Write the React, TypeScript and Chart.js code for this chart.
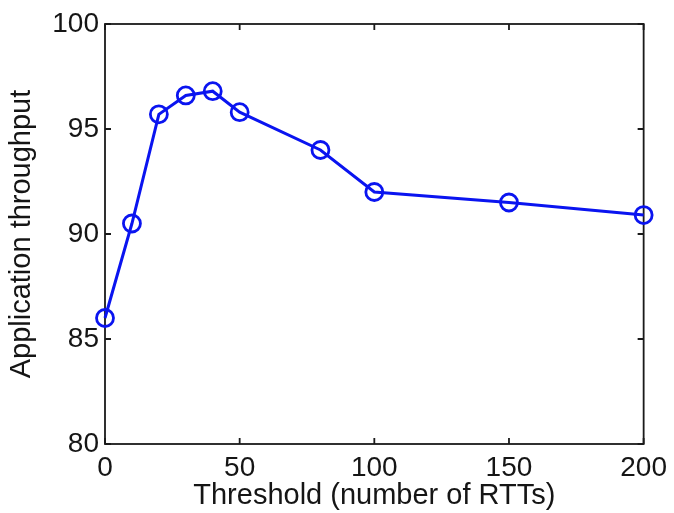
import React, { useEffect, useRef } from "react";
import { Chart, registerables } from "chart.js";

Chart.register(...registerables);

const thresholds = [0, 10, 20, 30, 40, 50, 80, 100, 150, 200];
const throughput = [86.0, 90.5, 95.7, 96.6, 96.8, 95.8, 94.0, 92.0, 91.5, 90.9];
const xTicks = [0, 50, 100, 150, 200];
const yTicks = [80, 85, 90, 95, 100];
const xTitle = "Threshold (number of RTTs)";
const yTitle = "Application throughput";

const FONT = "'Liberation Sans', Arial, Helvetica, sans-serif";

const framePlugin = {
  id: "matlabFrame",
  beforeDatasetsDraw(chart: any) {
    const { ctx, chartArea } = chart;
    const { left, right, top, bottom } = chartArea;
    const xs = chart.scales.x;
    const ys = chart.scales.y;
    const tl = 6;
    ctx.save();
    ctx.strokeStyle = "#1a1a1a";
    ctx.lineWidth = 1.8;
    ctx.strokeRect(left, top, right - left, bottom - top);
    ctx.beginPath();
    for (const v of xTicks) {
      const px = xs.getPixelForValue(v);
      ctx.moveTo(px, bottom);
      ctx.lineTo(px, bottom - tl);
      ctx.moveTo(px, top);
      ctx.lineTo(px, top + tl);
    }
    for (const v of yTicks) {
      const py = ys.getPixelForValue(v);
      ctx.moveTo(left, py);
      ctx.lineTo(left + tl, py);
      ctx.moveTo(right, py);
      ctx.lineTo(right - tl, py);
    }
    ctx.stroke();
    ctx.restore();
  },
};

export default function App() {
  const ref = useRef<HTMLCanvasElement | null>(null);
  useEffect(() => {
    document.body.style.margin = "0";
    const canvas = ref.current;
    if (!canvas) return;
    const chart = new Chart(canvas, {
      type: "line",
      data: {
        datasets: [
          {
            data: thresholds.map((x, i) => ({ x, y: throughput[i] })),
            borderColor: "#0a14f0",
            borderWidth: 3,
            pointStyle: "circle",
            pointRadius: 8.5,
            pointBorderWidth: 2.8,
            pointBorderColor: "#0a14f0",
            pointBackgroundColor: "rgba(0,0,0,0)",
            tension: 0,
            clip: false as any,
          },
        ],
      },
      options: {
        animation: false,
        responsive: false,
        maintainAspectRatio: false,
        layout: { padding: { top: 24, right: 27, left: 0, bottom: 0 } },
        plugins: {
          legend: { display: false },
          tooltip: { enabled: false },
        },
        scales: {
          x: {
            type: "linear",
            min: 0,
            max: 200,
            afterBuildTicks: (s: any) => {
              s.ticks = xTicks.map((v) => ({ value: v }));
            },
            afterFit: (s: any) => {
              s.height = 69;
            },
            grid: { display: false, drawTicks: false },
            border: { display: false },
            ticks: {
              padding: 7,
              maxRotation: 0,
              autoSkip: false,
              color: "#151515",
              font: { family: FONT, size: 28 },
            },
            title: {
              display: true,
              text: xTitle,
              color: "#151515",
              font: { family: FONT, size: 29, lineHeight: 1.2 },
              padding: { top: 0, bottom: 0 },
            },
          },
          y: {
            type: "linear",
            min: 80,
            max: 100,
            afterBuildTicks: (s: any) => {
              s.ticks = yTicks.map((v) => ({ value: v }));
            },
            afterFit: (s: any) => {
              s.width = 105;
            },
            grid: { display: false, drawTicks: false },
            border: { display: false },
            ticks: {
              padding: 6,
              autoSkip: false,
              color: "#151515",
              font: { family: FONT, size: 28 },
            },
            title: {
              display: true,
              text: yTitle,
              color: "#151515",
              font: { family: FONT, size: 29, lineHeight: 1.2 },
              padding: { top: 5, bottom: 0 },
            },
          },
        },
      },
      plugins: [framePlugin],
    });
    return () => chart.destroy();
  }, []);
  return (
    <div style={{ width: 674, height: 513, background: "#fff" }}>
      <canvas ref={ref} width={674} height={513} style={{ display: "block" }} />
    </div>
  );
}
